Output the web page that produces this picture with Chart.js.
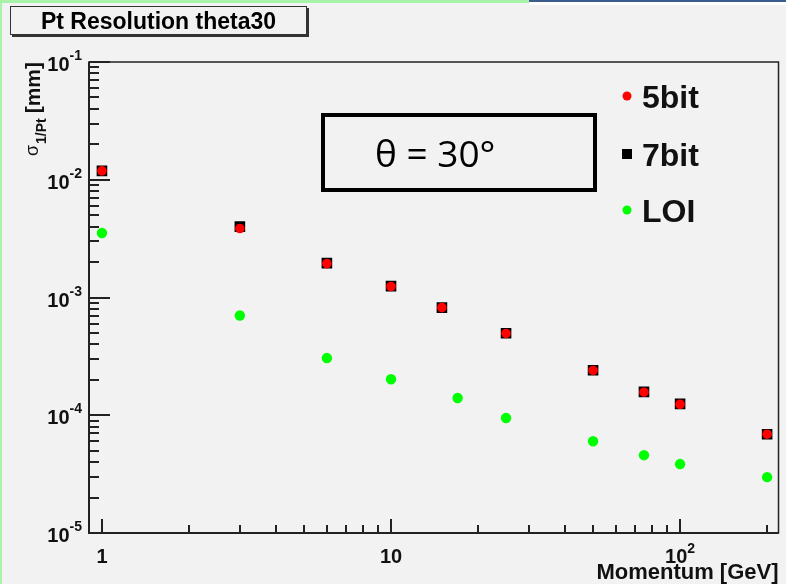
<!DOCTYPE html>
<html>
<head>
<meta charset="utf-8">
<script src="https://cdn.jsdelivr.net/npm/chart.js@4.4.1/dist/chart.umd.min.js"></script>
<style>
  body { margin: 0; background: #f2f2f2; width: 786px; height: 584px; overflow: hidden; position: relative;
         font-family: "Liberation Sans", Arial, sans-serif; }
  .strip { position: absolute; }
  #chart { position: absolute; left: 0; top: 0; }
  #title { position: absolute; left: 10px; top: 6px; width: 295px; height: 27px; border: 1px solid #333;
           box-shadow: 2px 2px 0 #333; font-weight: bold; font-size: 23px; text-align: center; line-height: 28px; }
  #theta { position: absolute; left: 321px; top: 113px; height: 71px; border: 4px solid #000;
           font-family: "Open Sans", sans-serif; font-size: 37px; line-height: 71px; padding-left: 50px;
           box-sizing: content-box; width: 218px; }
</style>
</head>
<body>
<div class="strip" style="left:0;top:0;width:2px;height:584px;background:#a9f3a9"></div>
<div class="strip" style="left:0;top:0;width:529px;height:3px;background:#a9f3a9"></div>
<div class="strip" style="left:529px;top:0;width:257px;height:2px;background:#3b5c8c"></div>
<div class="strip" style="left:529px;top:2px;width:257px;height:3px;background:#fff"></div>
<canvas id="chart" width="786" height="584"></canvas>
<div id="title">Pt Resolution theta30</div>
<div id="theta">θ = 30°</div>
<script>
// momentum points [GeV]
const momentum = [1, 3, 6, 10, 15, 25, 50, 75, 100, 200];
const momentumLOI = [1, 3, 6, 10, 17, 25, 50, 75, 100, 200];
// sigma(1/Pt) values
const res5bit = [0.0119, 0.00385, 0.00194, 0.00124, 0.00082, 0.000495, 0.00024, 0.000157, 0.000124, 0.000069];
const res7bit = [0.0119, 0.0040, 0.00196, 0.00125, 0.00082, 0.000497, 0.000241, 0.000158, 0.000125, 0.000069];
const resLOI = [0.00353, 0.000703, 0.000306, 0.000202, 0.00014, 0.0000948, 0.0000602, 0.0000458, 0.0000385, 0.0000298];

// tick labels as base^exponent
const xTickValues = [1, 10, 100];
const xTickBase = ['1', '10', '10'];
const xTickExp = ['', '', '2'];
const yTickValues = [1e-1, 1e-2, 1e-3, 1e-4, 1e-5];
const yTickExp = ['-1', '-2', '-3', '-4', '-5'];

const legendLabels = ['5bit', '7bit', 'LOI'];

function toPoints(xs, ys) {
  return xs.map((x, i) => ({ x: x, y: ys[i] }));
}

// ROOT style frame: inward ticks, labels with superscripts, titles, legend
const rootFrame = {
  id: 'rootFrame',
  afterDatasetsDraw(chart) {
    const ctx = chart.ctx;
    const area = chart.chartArea;
    const xs = chart.scales.x;
    const ys = chart.scales.y;
    ctx.save();
    ctx.strokeStyle = '#222';
    ctx.fillStyle = '#111';

    // frame
    ctx.lineWidth = 1.5;
    ctx.strokeRect(area.left, area.top, area.right - area.left, area.bottom - area.top);
    ctx.lineWidth = 2;
    ctx.beginPath();
    ctx.moveTo(area.left, area.top); ctx.lineTo(area.left, area.bottom); ctx.lineTo(area.right, area.bottom);
    ctx.stroke();

    // y ticks
    ctx.lineWidth = 2;
    for (let e = -5; e <= -1; e++) {
      for (let m = 1; m <= 9; m++) {
        const v = m * Math.pow(10, e);
        if (v > ys.max * 1.0001 || v < ys.min * 0.9999) continue;
        const py = Math.round(ys.getPixelForValue(v));
        const len = m === 1 ? 21 : 10;
        ctx.beginPath(); ctx.moveTo(area.left, py); ctx.lineTo(area.left + len, py); ctx.stroke();
      }
    }
    // x ticks
    for (let e = 0; e <= 2; e++) {
      for (let m = 1; m <= 9; m++) {
        const v = m * Math.pow(10, e);
        if (v > xs.max || v < xs.min) continue;
        const px = Math.round(xs.getPixelForValue(v));
        const len = m === 1 ? 14 : 8;
        ctx.beginPath(); ctx.moveTo(px, area.bottom); ctx.lineTo(px, area.bottom - len); ctx.stroke();
      }
    }

    // y tick labels
    ctx.textBaseline = 'alphabetic';
    yTickValues.forEach((v, i) => {
      const py = ys.getPixelForValue(v);
      ctx.font = 'bold 14px "Liberation Sans", Arial';
      const expW = ctx.measureText(yTickExp[i]).width;
      ctx.textAlign = 'right';
      ctx.fillText(yTickExp[i], 82, py - 2);
      ctx.font = 'bold 20px "Liberation Sans", Arial';
      ctx.fillText('10', 82 - expW, py + 9);
    });

    // x tick labels
    xTickValues.forEach((v, i) => {
      const px = xs.getPixelForValue(v);
      ctx.font = 'bold 20px "Liberation Sans", Arial';
      const baseW = ctx.measureText(xTickBase[i]).width;
      ctx.font = 'bold 14px "Liberation Sans", Arial';
      const expW = xTickExp[i] ? ctx.measureText(xTickExp[i]).width : 0;
      const start = px - (baseW + expW) / 2;
      ctx.textAlign = 'left';
      ctx.font = 'bold 20px "Liberation Sans", Arial';
      ctx.fillText(xTickBase[i], start, 563);
      if (xTickExp[i]) {
        ctx.font = 'bold 14px "Liberation Sans", Arial';
        ctx.fillText(xTickExp[i], start + baseW, 553);
      }
    });

    // x axis title
    ctx.font = 'bold 22px "Liberation Sans", Arial';
    ctx.textAlign = 'right';
    ctx.fillText('Momentum [GeV]', area.right, 579);

    // y axis title, rotated, ending at the top of the frame
    ctx.save();
    ctx.translate(40, area.top);
    ctx.rotate(-Math.PI / 2);
    ctx.textAlign = 'right';
    ctx.font = 'bold 21px "Liberation Sans", Arial';
    ctx.fillText('[mm]', 0, 0);
    let off = ctx.measureText('[mm]').width + 5;
    ctx.font = 'bold 14px "Liberation Sans", Arial';
    ctx.fillText('1/Pt', -off, 6);
    off += ctx.measureText('1/Pt').width + 1;
    ctx.font = '18px "Liberation Sans", Arial';
    ctx.fillText('σ', -off, -2);
    ctx.restore();

    // legend
    const rows = [96, 154, 210];
    chart.data.datasets.forEach((ds, i) => {
      const cy = rows[i];
      ctx.fillStyle = ds.backgroundColor;
      if (ds.pointStyle === 'rect') {
        ctx.fillRect(622, cy - 5, 10, 10);
      } else {
        ctx.beginPath(); ctx.arc(627, cy, 4.5, 0, Math.PI * 2); ctx.fill();
      }
      ctx.fillStyle = '#111';
      ctx.font = 'bold 32px "Liberation Sans", Arial';
      ctx.textAlign = 'left';
      ctx.fillText(legendLabels[i], 642, cy + 12);
    });
    ctx.restore();
  }
};

const chart = new Chart(document.getElementById('chart'), {
  type: 'scatter',
  data: {
    datasets: [
      { label: legendLabels[0], data: toPoints(momentum, res5bit), pointStyle: 'circle', pointRadius: 4.8,
        backgroundColor: '#ff0000', borderColor: '#ff0000', borderWidth: 0 },
      { label: legendLabels[1], data: toPoints(momentum, res7bit), pointStyle: 'rect', pointRadius: 7.5,
        backgroundColor: '#000000', borderColor: '#000000', borderWidth: 0 },
      { label: legendLabels[2], data: toPoints(momentumLOI, resLOI), pointStyle: 'circle', pointRadius: 5.2,
        backgroundColor: '#00ff00', borderColor: '#00ff00', borderWidth: 0 }
    ]
  },
  options: {
    responsive: false,
    animation: false,
    devicePixelRatio: 1,
    layout: { padding: { left: 89, top: 62, right: 3, bottom: 51 } },
    scales: {
      x: { type: 'logarithmic', min: 0.902, max: 219, display: false },
      y: { type: 'logarithmic', min: 1e-5, max: 1e-1, display: false }
    },
    plugins: { legend: { display: false }, tooltip: { enabled: false } }
  },
  plugins: [rootFrame]
});
</script>
</body>
</html>
